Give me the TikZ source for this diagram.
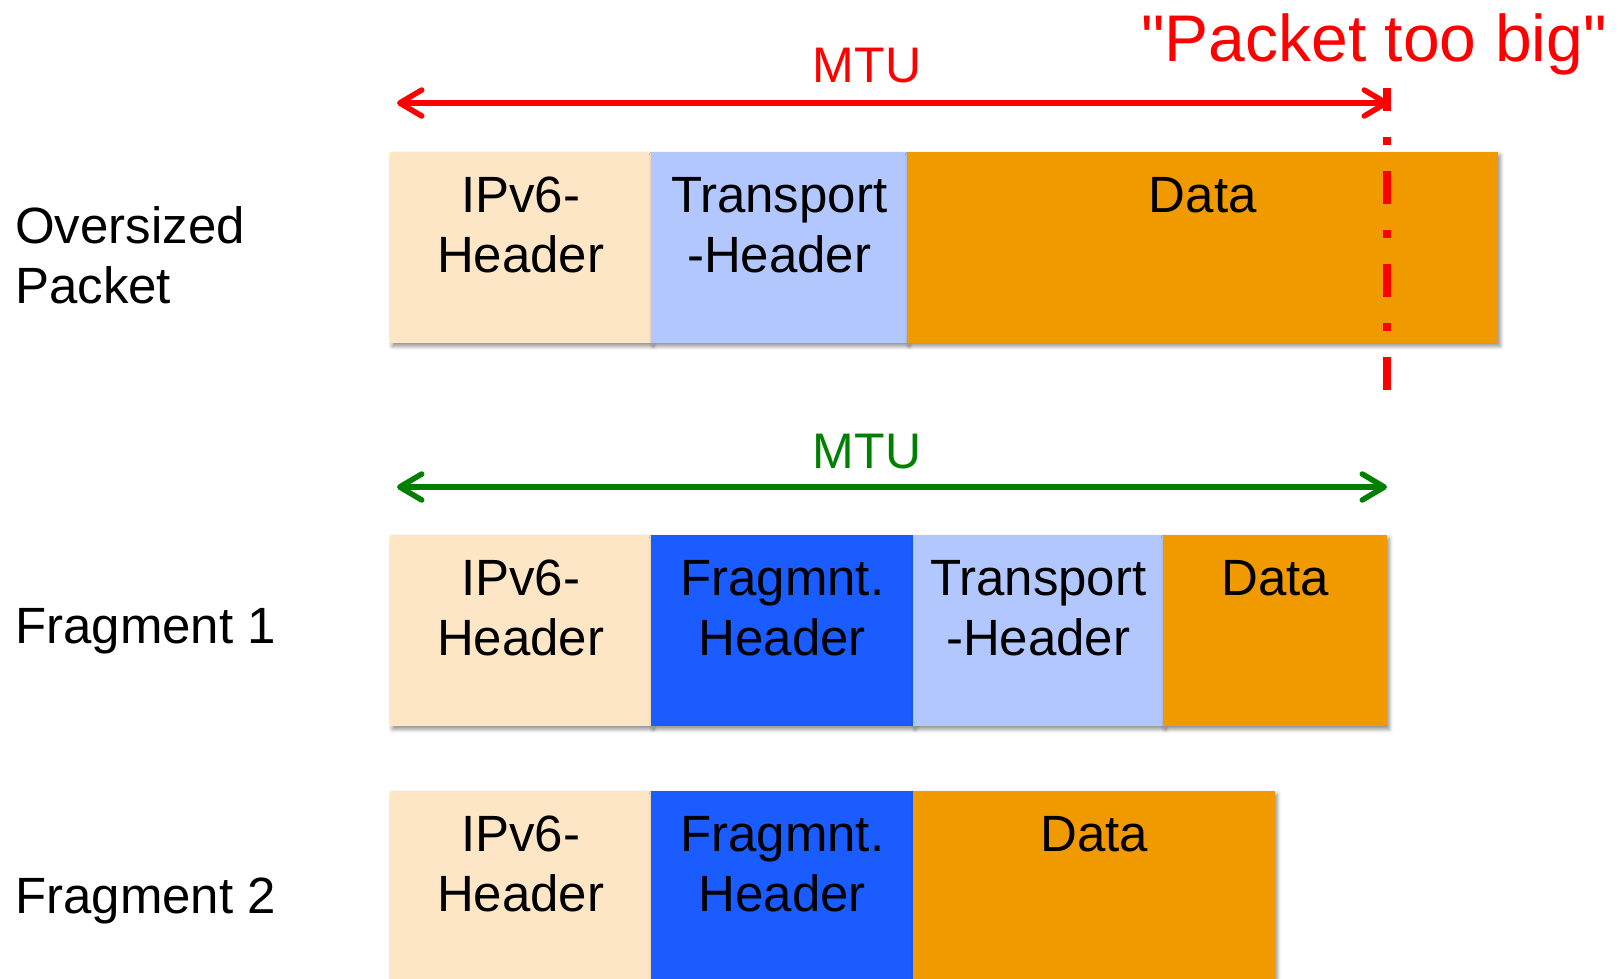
\documentclass[tikz,border=0pt]{standalone}
\usepackage{fontspec}
\setmainfont{Liberation Sans}[Ligatures=TeXOff]
\usetikzlibrary{arrows.meta,shadows.blur}

\definecolor{hdrpeach}{RGB}{253,230,197}
\definecolor{trlight}{RGB}{179,199,255}
\definecolor{fragblue}{RGB}{26,92,255}
\definecolor{dataorange}{RGB}{240,154,0}
\definecolor{mtured}{RGB}{255,0,0}
\definecolor{mtugreen}{RGB}{0,128,0}

\tikzset{
  field/.style={rectangle, anchor=north west, inner sep=0pt, draw=none,
    minimum height=191pt, fill=#1,
    blur shadow={shadow xshift=2pt, shadow yshift=-3pt,
      shadow blur radius=4pt, shadow opacity=45}},
  fieldtext/.style={anchor=north, inner sep=0pt, align=center,
    font=\fontsize{51}{60}\selectfont},
  rowlabel/.style={anchor=base west, inner sep=0pt, align=left,
    font=\fontsize{51}{60}\selectfont},
  mtulabel/.style={anchor=base, inner sep=0pt, font=\fontsize{50}{60}\selectfont},
  mtuarrow/.style={line width=5.5pt, line cap=round,
    {Straight Barb[length=22pt, width=26pt, round]}-{Straight Barb[length=22pt, width=26pt, round]}},
}

\begin{document}
\begin{tikzpicture}[x=1pt, y=-1pt]
\useasboundingbox (0,0) rectangle (1618,979);
\clip (0,0) rectangle (1618,979);

% ---------- oversized packet ----------
\node[field=hdrpeach,   minimum width=261pt] (o1) at (390,152) {};
\node[field=trlight,    minimum width=256pt] (o2) at (651,152) {};
\node[field=dataorange, minimum width=591pt] (o3) at (907,152) {};
\node[fieldtext] (o1t) at ([yshift=-25pt]o1.north) {IPv6-\\Header};
\node[fieldtext] (o2t) at ([yshift=-25pt]o2.north) {Transport\\-Header};
\node[fieldtext] (o3t) at ([yshift=-25pt]o3.north) {Data};
% base anchor of a two-line label sits on its last line
\node[rowlabel] (lbl1) at (15,303) {Oversized\\Packet};

% ---------- fragment 1 ----------
\node[field=hdrpeach,   minimum width=261pt] (f1) at (390,535) {};
\node[field=fragblue,   minimum width=262pt] (f2) at (651,535) {};
\node[field=trlight,    minimum width=250pt] (f3) at (913,535) {};
\node[field=dataorange, minimum width=224pt] (f4) at (1163,535) {};
\node[fieldtext] (f1t) at ([yshift=-25pt]f1.north) {IPv6-\\Header};
\node[fieldtext] (f2t) at ([yshift=-25pt]f2.north) {Fragmnt.\\Header};
\node[fieldtext] (f3t) at ([yshift=-25pt]f3.north) {Transport\\-Header};
\node[fieldtext] (f4t) at ([yshift=-25pt]f4.north) {Data};
\node[rowlabel] (lbl2) at (15,643) {Fragment 1};

% ---------- fragment 2 ----------
\node[field=hdrpeach,   minimum width=261pt] (g1) at (390,791) {};
\node[field=fragblue,   minimum width=262pt] (g2) at (651,791) {};
\node[field=dataorange, minimum width=362pt] (g3) at (913,791) {};
\node[fieldtext] (g1t) at ([yshift=-25pt]g1.north) {IPv6-\\Header};
\node[fieldtext] (g2t) at ([yshift=-25pt]g2.north) {Fragmnt.\\Header};
\node[fieldtext] (g3t) at ([yshift=-25pt]g3.north) {Data};
\node[rowlabel] (lbl3) at (15,913) {Fragment 2};

% ---------- MTU limit (red, too big) ----------
\coordinate (limTop) at (1387,88);
\coordinate (limBot) at (1387,392);
\draw[mtured, line width=8pt, line cap=butt,
      dash pattern=on 33pt off 26pt on 8pt off 26pt, dash phase=10pt]
  (limTop) -- (limBot);
\coordinate (redL) at (397,103);
\coordinate (redR) at (1389,103);
\draw[mtuarrow, mtured] (redL) -- (redR);
\node[mtulabel, text=mtured] (redmtu) at (867,83) {MTU};
\node[anchor=base, inner sep=0pt, text=mtured,
      font=\fontsize{66}{72}\selectfont] (toobig) at (1374,62)
  {"Packet too big"};

% ---------- MTU (green, fits) ----------
\coordinate (grnL) at (397,487);
\coordinate (grnR) at (1387,487);
\draw[mtuarrow, mtugreen] (grnL) -- (grnR);
\node[mtulabel, text=mtugreen] (grnmtu) at (867,468) {MTU};
\end{tikzpicture}
\end{document}
